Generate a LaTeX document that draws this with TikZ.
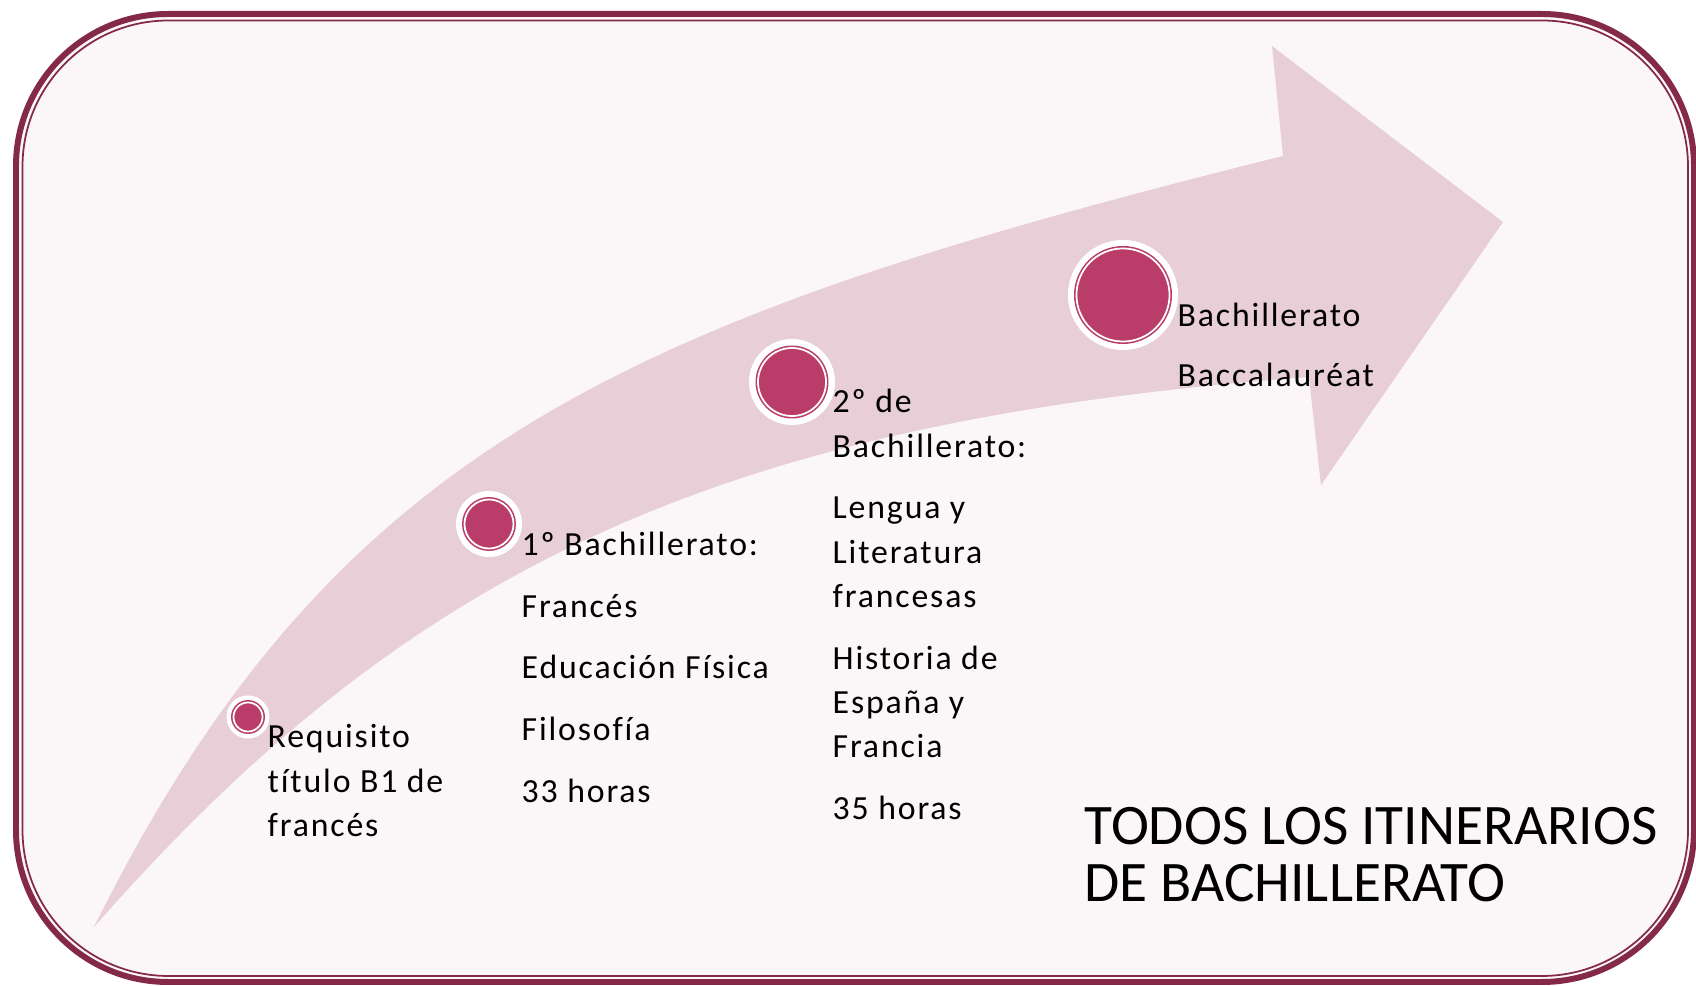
\documentclass[tikz,border=0pt]{standalone}
\usepackage{fontspec}
\setmainfont{Carlito}
\newfontfamily\bodyfont[LetterSpace=5.5, Ligatures=NoCommon]{Carlito}
\definecolor{framered}{HTML}{85294A}
\definecolor{paper}{HTML}{FBF7F8}
\definecolor{shaft}{HTML}{E8CED6}
\definecolor{dotred}{HTML}{B93C69}
\tikzstyle{halo} = [circle, fill=white, inner sep=0pt]
\tikzstyle{dot} = [circle, fill=dotred, draw=dotred, double=white, double distance=0.5pt, line width=0.45pt, inner sep=0pt]
\tikzstyle{itemtext} = [anchor=base west, inner sep=0pt, font=\bodyfont\fontsize{9.6}{12.7}\selectfont]
\tikzstyle{titletext} = [anchor=base west, inner sep=0pt, font=\fontsize{16.3}{16.3}\selectfont]

\begin{document}
\begin{tikzpicture}[x=0.01cm, y=-0.01cm]
        \useasboundingbox (0,0) rectangle (1696,986);
        \draw [framered, line width=1.7pt, fill=paper, rounded corners=1.52cm] (16,14) rectangle (1694,982);
        \draw [framered, line width=0.5pt, rounded corners=1.46cm] (22.5,20.5) rectangle (1688,976);

        \fill [shaft] (94,927) .. controls (335,442) and (633,318) .. (1283,156) -- (1272,46) -- (1503,222)
            -- (1321,485) -- (1309,377) .. controls (709,422) and (404,574) .. (94,927) -- cycle;

        \node (h1) [halo, minimum size=0.43cm] at (248,717) {};
        \node (d1) [dot, minimum size=0.29cm] at (h1) {};
        \node (h2) [halo, minimum size=0.66cm] at (489,524) {};
        \node (d2) [dot, minimum size=0.49cm] at (h2) {};
        \node (h3) [halo, minimum size=0.86cm] at (792,382) {};
        \node (d3) [dot, minimum size=0.68cm] at (h3) {};
        \node (h4) [halo, minimum size=1.10cm] at (1123,295) {};
        \node (d4) [dot, minimum size=0.93cm] at (h4) {};

        \node (req1) [itemtext] at (267,748) {Requisito};
        \node (req2) [itemtext] at (267,793) {título B1 de};
        \node (req3) [itemtext] at (267,837) {francés};

        \node (first1) [itemtext] at (521,556) {1º Bachillerato:};
        \node (first2) [itemtext] at (521,618) {Francés};
        \node (first3) [itemtext] at (521,679) {Educación Física};
        \node (first4) [itemtext] at (521,741) {Filosofía};
        \node (first5) [itemtext] at (521,803) {33 horas};

        \node (second1) [itemtext] at (832,413) {2º de};
        \node (second2) [itemtext] at (832,458) {Bachillerato:};
        \node (second3) [itemtext] at (832,519) {Lengua y};
        \node (second4) [itemtext] at (832,564) {Literatura};
        \node (second5) [itemtext] at (832,608) {francesas};
        \node (second6) [itemtext] at (832,670) {Historia de};
        \node (second7) [itemtext] at (832,714) {España y};
        \node (second8) [itemtext] at (832,758) {Francia};
        \node (second9) [itemtext] at (832,820) {35 horas};

        \node (bac1) [itemtext] at (1177,327) {Bachillerato};
        \node (bac2) [itemtext] at (1177,387) {Baccalauréat};

        \node (all1) [titletext] at (1084,845) {TODOS LOS ITINERARIOS};
        \node (all2) [titletext] at (1084,902) {DE BACHILLERATO};
    \end{tikzpicture}
\end{document}
